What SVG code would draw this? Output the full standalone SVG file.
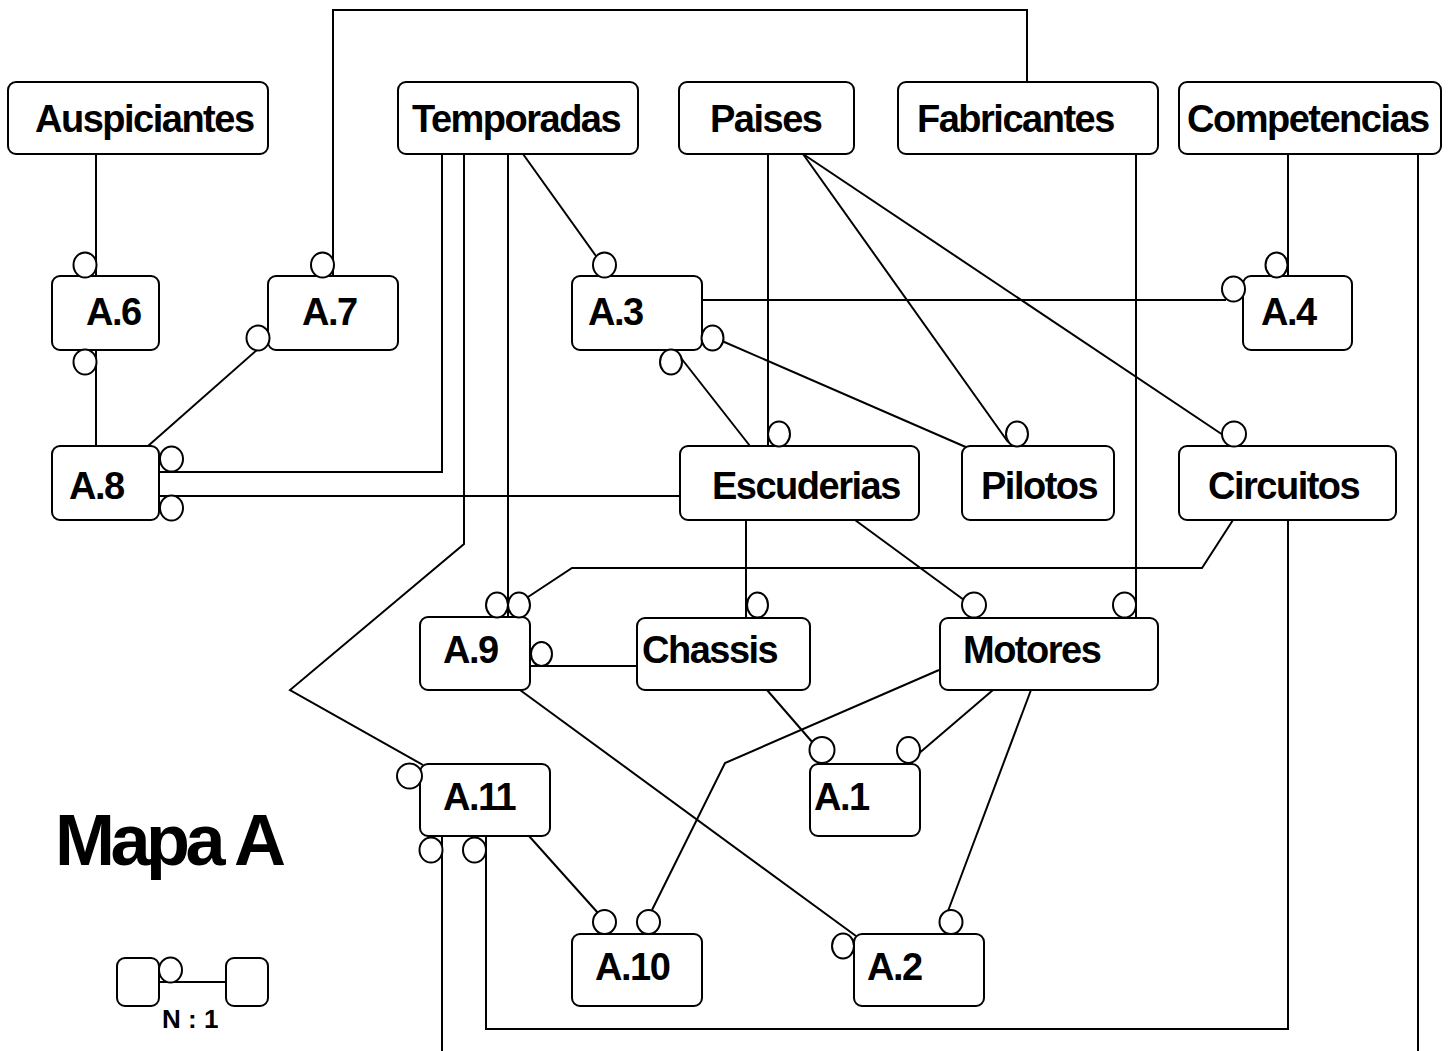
<svg xmlns="http://www.w3.org/2000/svg" width="1452" height="1051" viewBox="0 0 1452 1051">
<style>
.box{fill:#fff;stroke:#000;stroke-width:2}
.lbl{font-family:"Liberation Sans",Arial,sans-serif;font-weight:bold;font-size:38px;letter-spacing:-1.5px;fill:#000}
.con{fill:none;stroke:#000;stroke-width:2}
.card{fill:#fff;stroke:#000;stroke-width:2}
</style>
<rect width="1452" height="1051" fill="#fff"/>
<g id="connectors" class="con">
<path d="M96 154V276"/>
<path d="M96 350V446"/>
<path d="M333 276V10H1027V82"/>
<path d="M258 349L148 446"/>
<path d="M442 154V472H159"/>
<path d="M159 496H680"/>
<path d="M464 154V544L290 690L423 765"/>
<path d="M508 154V617"/>
<path d="M523 154L596 256"/>
<path d="M702 300H1226"/>
<path d="M1288 154V276"/>
<path d="M1418 154V1051"/>
<path d="M442 836V1051"/>
<path d="M1288 520V1029H486V836"/>
<path d="M768 154V446"/>
<path d="M803 154L1008 442"/>
<path d="M803 154L1223 435"/>
<path d="M681 358L750 446"/>
<path d="M722 341L968 448"/>
<path d="M1136 154V618"/>
<path d="M746 520V618"/>
<path d="M855 520L964 600"/>
<path d="M1233 520L1202 568H572L528 597"/>
<path d="M530 666H637"/>
<path d="M520 690L856 936"/>
<path d="M767 690L813 743"/>
<path d="M993 690L917 755"/>
<path d="M939 670L725 763L652 910"/>
<path d="M529 836L598 913"/>
<path d="M1031 690L948 911"/>
</g>
<g id="n-auspiciantes"><rect class="box" x="8" y="82" width="260" height="72" rx="8"/><text class="lbl" x="35" y="132">Auspiciantes</text></g>
<g id="n-temporadas"><rect class="box" x="398" y="82" width="240" height="72" rx="8"/><text class="lbl" x="412" y="132">Temporadas</text></g>
<g id="n-paises"><rect class="box" x="679" y="82" width="175" height="72" rx="8"/><text class="lbl" x="710" y="132">Paises</text></g>
<g id="n-fabricantes"><rect class="box" x="898" y="82" width="260" height="72" rx="8"/><text class="lbl" x="917" y="132">Fabricantes</text></g>
<g id="n-competencias"><rect class="box" x="1179" y="82" width="262" height="72" rx="8"/><text class="lbl" x="1187" y="132">Competencias</text></g>
<g id="n-a6"><rect class="box" x="52" y="276" width="107" height="74" rx="8"/><text class="lbl" x="86" y="325">A.6</text></g>
<g id="n-a7"><rect class="box" x="268" y="276" width="130" height="74" rx="8"/><text class="lbl" x="302" y="325">A.7</text></g>
<g id="n-a3"><rect class="box" x="572" y="276" width="130" height="74" rx="8"/><text class="lbl" x="588" y="325">A.3</text></g>
<g id="n-a4"><rect class="box" x="1243" y="276" width="109" height="74" rx="8"/><text class="lbl" x="1261" y="325">A.4</text></g>
<g id="n-a8"><rect class="box" x="52" y="446" width="107" height="74" rx="8"/><text class="lbl" x="69" y="499">A.8</text></g>
<g id="n-escuderias"><rect class="box" x="680" y="446" width="239" height="74" rx="8"/><text class="lbl" x="712" y="499">Escuderias</text></g>
<g id="n-pilotos"><rect class="box" x="962" y="446" width="152" height="74" rx="8"/><text class="lbl" x="981" y="499">Pilotos</text></g>
<g id="n-circuitos"><rect class="box" x="1179" y="446" width="217" height="74" rx="8"/><text class="lbl" x="1208" y="499">Circuitos</text></g>
<g id="n-a9"><rect class="box" x="420" y="617" width="110" height="73" rx="8"/><text class="lbl" x="443" y="663">A.9</text></g>
<g id="n-chassis"><rect class="box" x="637" y="618" width="173" height="72" rx="8"/><text class="lbl" x="642" y="663">Chassis</text></g>
<g id="n-motores"><rect class="box" x="940" y="618" width="218" height="72" rx="8"/><text class="lbl" x="963" y="663">Motores</text></g>
<g id="n-a11"><rect class="box" x="420" y="764" width="130" height="72" rx="8"/><text class="lbl" x="443" y="810">A.11</text></g>
<g id="n-a1"><rect class="box" x="810" y="764" width="110" height="72" rx="8"/><text class="lbl" x="814" y="810">A.1</text></g>
<g id="n-a10"><rect class="box" x="572" y="934" width="130" height="72" rx="8"/><text class="lbl" x="595" y="980">A.10</text></g>
<g id="n-a2"><rect class="box" x="854" y="934" width="130" height="72" rx="8"/><text class="lbl" x="867" y="980">A.2</text></g>
<g id="cardinality" class="card">
<ellipse cx="85" cy="265" rx="11.5" ry="12.5"/>
<ellipse cx="85" cy="362" rx="11.5" ry="12.5"/>
<ellipse cx="322.5" cy="265" rx="11.5" ry="12.5"/>
<ellipse cx="258" cy="338" rx="11.5" ry="12.5"/>
<ellipse cx="171.5" cy="459" rx="11.5" ry="12.5"/>
<ellipse cx="171.5" cy="508" rx="11.5" ry="12.5"/>
<ellipse cx="409.5" cy="776" rx="12.5" ry="12.5"/>
<ellipse cx="497" cy="605" rx="11" ry="12.5"/>
<ellipse cx="519" cy="605" rx="11" ry="12.5"/>
<ellipse cx="604.5" cy="265" rx="11.5" ry="12.5"/>
<ellipse cx="1233.5" cy="289" rx="11.5" ry="12.5"/>
<ellipse cx="1276.5" cy="265" rx="11" ry="12.5"/>
<ellipse cx="431" cy="850" rx="11.5" ry="12.5"/>
<ellipse cx="474.5" cy="850" rx="11.5" ry="12.5"/>
<ellipse cx="779" cy="434" rx="11" ry="12.5"/>
<ellipse cx="1017" cy="434" rx="11" ry="12.5"/>
<ellipse cx="1234" cy="434" rx="12" ry="12.5"/>
<ellipse cx="671" cy="362" rx="11" ry="12.5"/>
<ellipse cx="712.5" cy="338" rx="11" ry="12.5"/>
<ellipse cx="1124.5" cy="605" rx="11.5" ry="12.5"/>
<ellipse cx="757.5" cy="605" rx="10.5" ry="12.5"/>
<ellipse cx="974" cy="605" rx="12" ry="12.5"/>
<ellipse cx="541.5" cy="654" rx="10.5" ry="12"/>
<ellipse cx="843" cy="946" rx="11" ry="12.5"/>
<ellipse cx="822" cy="750" rx="12.5" ry="13"/>
<ellipse cx="908.5" cy="750" rx="11.5" ry="13"/>
<ellipse cx="604.5" cy="922" rx="11.5" ry="12"/>
<ellipse cx="648.5" cy="922" rx="11.5" ry="12"/>
<ellipse cx="951" cy="922" rx="11.5" ry="12"/>
</g>
<g id="title"><text x="55" y="865" style="font-family:'Liberation Sans',Arial,sans-serif;font-weight:bold;font-size:72px;letter-spacing:-4.5px">Mapa A</text></g>
<g id="legend">
<rect class="box" x="117" y="958" width="42" height="48" rx="8"/>
<rect class="box" x="226" y="958" width="42" height="48" rx="8"/>
<path class="con" d="M159 982H226"/>
<ellipse class="card" cx="170.5" cy="970" rx="11.5" ry="12.5"/>
<text x="162" y="1028" style="font-family:'Liberation Sans',Arial,sans-serif;font-weight:bold;font-size:26px">N : 1</text>
</g>
</svg>
